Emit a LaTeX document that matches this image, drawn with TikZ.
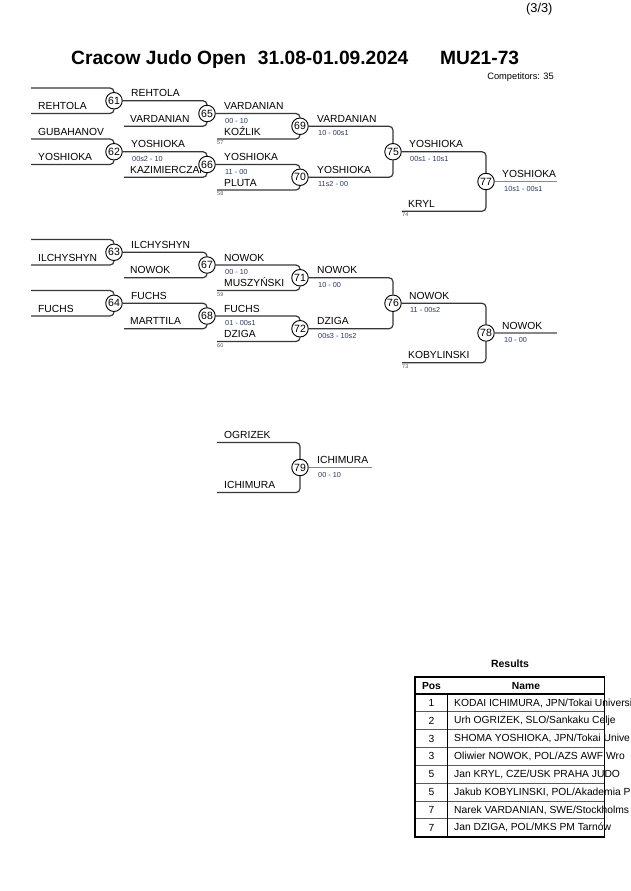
\documentclass[tikz,border=0pt]{standalone}
\usepackage{fontspec}
\setmainfont{Liberation Sans}
\definecolor{linec}{RGB}{55,55,55}
\definecolor{scorec}{RGB}{40,55,95}
\definecolor{tinyc}{RGB}{90,90,90}
\definecolor{finc}{RGB}{135,135,135}
\definecolor{rowc}{RGB}{90,90,90}
\pgfdeclarelayer{bg}
\pgfsetlayers{bg,main}
\begin{document}
\begin{tikzpicture}[x=1pt,y=-1pt,
  br/.style={draw=linec,line width=1.2pt,rounded corners=4pt},
  fin/.style={draw=finc,line width=1.6pt},
  mc/.style={circle,draw=black,fill=white,line width=0.9pt,inner sep=0pt,minimum size=16.5pt,font=\fontsize{10.5}{11}\selectfont},
  nm/.style={anchor=base west,inner sep=0pt,font=\fontsize{10.3}{12}\selectfont},
  sc/.style={anchor=base west,inner sep=0pt,text=scorec,font=\fontsize{7.3}{8}\selectfont},
  tn/.style={anchor=north west,inner sep=0pt,text=tinyc,font=\fontsize{5.5}{6}\selectfont},
  tb/.style={inner sep=0pt,font=\fontsize{10.3}{12}\selectfont},
  ttl/.style={anchor=base west,inner sep=0pt,font=\fontsize{19.2}{21}\selectfont\bfseries},
]
\useasboundingbox (0,0) rectangle (630,891);

% ---------- header ----------
\node[anchor=base east,inner sep=0pt,font=\fontsize{12.8}{14}\selectfont] (page) at (552.7,13) {(3/3)};
\node[ttl] (t1) at (71,65) {Cracow Judo Open};
\node[ttl] (t2) at (257.7,65) {31.08-01.09.2024};
\node[ttl] (t3) at (440,65) {MU21-73};
\node[anchor=base east,inner sep=0pt,font=\fontsize{9.3}{10}\selectfont] (comp) at (554,79.5) {Competitors: 35};

% ---------- section 1 names ----------
\node[nm] (n1) at (38,109.5) {REHTOLA};
\node[nm] (n2) at (38,135) {GUBAHANOV};
\node[nm] (n3) at (38,160.5) {YOSHIOKA};
\node[nm] (n4) at (131,96.75) {REHTOLA};
\node[nm] (n5) at (130,122.25) {VARDANIAN};
\node[nm] (n6) at (131,147.75) {YOSHIOKA};
\node[sc] (s6) at (132,161.25) {00s2 - 10};
\node[nm] (n7) at (130,173.25) {KAZIMIERCZAK};
\node[nm] (n8) at (224,109.5) {VARDANIAN};
\node[sc] (s8) at (225,123) {00 - 10};
\node[nm] (n9) at (224,135) {KOŹLIK};
\node[tn] (k9) at (217,140.5) {57};
\node[nm] (n10) at (224,160.5) {YOSHIOKA};
\node[sc] (s10) at (225,174) {11 - 00};
\node[nm] (n11) at (224,186) {PLUTA};
\node[tn] (k11) at (217,191.5) {58};
\node[nm] (n12) at (317,122.25) {VARDANIAN};
\node[sc] (s12) at (318,135.75) {10 - 00s1};
\node[nm] (n13) at (317,173.25) {YOSHIOKA};
\node[sc] (s13) at (318,186.75) {11s2 - 00};
\node[nm] (n14) at (409,147.75) {YOSHIOKA};
\node[sc] (s14) at (410,161.25) {00s1 - 10s1};
\node[nm] (n15) at (408,207.25) {KRYL};
\node[tn] (k15) at (402,212.75) {74};
\node[nm] (n16) at (502,177.5) {YOSHIOKA};
\node[sc] (s16) at (504,191) {10s1 - 00s1};

% ---------- section 2 names ----------
\node[nm] (p1) at (38,261) {ILCHYSHYN};
\node[nm] (p2) at (38,312) {FUCHS};
\node[nm] (p3) at (131,248.25) {ILCHYSHYN};
\node[nm] (p4) at (130,273.75) {NOWOK};
\node[nm] (p5) at (131,299.25) {FUCHS};
\node[nm] (p6) at (130,324.75) {MARTTILA};
\node[nm] (p7) at (224,261) {NOWOK};
\node[sc] (q7) at (225,274.5) {00 - 10};
\node[nm] (p8) at (224,286.5) {MUSZYŃSKI};
\node[tn] (r8) at (217,292) {59};
\node[nm] (p9) at (224,312) {FUCHS};
\node[sc] (q9) at (225,325.5) {01 - 00s1};
\node[nm] (p10) at (224,337.5) {DZIGA};
\node[tn] (r10) at (217,343) {60};
\node[nm] (p11) at (317,273.75) {NOWOK};
\node[sc] (q11) at (318,287.25) {10 - 00};
\node[nm] (p12) at (317,324.75) {DZIGA};
\node[sc] (q12) at (318,338.25) {00s3 - 10s2};
\node[nm] (p13) at (409,299.25) {NOWOK};
\node[sc] (q13) at (410,312.75) {11 - 00s2};
\node[nm] (p14) at (408,358.75) {KOBYLINSKI};
\node[tn] (r14) at (402,364.25) {73};
\node[nm] (p15) at (502,329) {NOWOK};
\node[sc] (q15) at (504,342.5) {10 - 00};

% ---------- section 3 names ----------
\node[nm] (o1) at (224,438.5) {OGRIZEK};
\node[nm] (o2) at (224,488.5) {ICHIMURA};
\node[nm] (o3) at (317,463.5) {ICHIMURA};
\node[sc] (o4) at (318,477) {00 - 10};

% ---------- circles ----------
\node[mc] (m61) at (114,100.75) {61};
\node[mc] (m62) at (114,151.75) {62};
\node[mc] (m65) at (207,113.5) {65};
\node[mc] (m66) at (207,164.5) {66};
\node[mc] (m69) at (300,126.25) {69};
\node[mc] (m70) at (300,177.25) {70};
\node[mc] (m75) at (393,151.75) {75};
\node[mc] (m77) at (486,181.5) {77};
\node[mc] (m63) at (114,252.25) {63};
\node[mc] (m64) at (114,303.25) {64};
\node[mc] (m67) at (207,265) {67};
\node[mc] (m68) at (207,316) {68};
\node[mc] (m71) at (300,277.75) {71};
\node[mc] (m72) at (300,328.75) {72};
\node[mc] (m76) at (393,303.25) {76};
\node[mc] (m78) at (486,333) {78};
\node[mc] (m79) at (300,467.5) {79};

% ---------- entry points ----------
\coordinate (e61a) at (31,88);
\coordinate (e61b) at (31,113.5);
\coordinate (e62a) at (31,139);
\coordinate (e62b) at (31,164.5);
\coordinate (e65b) at (124,126.25);
\coordinate (e66b) at (124,177.25);
\coordinate (e69b) at (217,139);
\coordinate (e70b) at (217,190);
\coordinate (e77b) at (402,211.25);
\coordinate (f77) at (557,181.5);
\coordinate (e63a) at (31,239.5);
\coordinate (e63b) at (31,265);
\coordinate (e64a) at (31,290.5);
\coordinate (e64b) at (31,316);
\coordinate (e67b) at (124,277.75);
\coordinate (e68b) at (124,328.75);
\coordinate (e71b) at (217,290.5);
\coordinate (e72b) at (217,341.5);
\coordinate (e78b) at (402,362.75);
\coordinate (f78) at (557,333);
\coordinate (e79a) at (217,442.5);
\coordinate (e79b) at (217,492.5);
\coordinate (f79) at (372,467.5);

\begin{pgfonlayer}{bg}
% section 1
\draw[br] (e61a) -| (m61);
\draw[br] (e61b) -| (m61);
\draw[br] (e62a) -| (m62);
\draw[br] (e62b) -| (m62);
\draw[br] (m61) -| (m65);
\draw[br] (e65b) -| (m65);
\draw[br] (m62) -| (m66);
\draw[br] (e66b) -| (m66);
\draw[br] (m65) -| (m69);
\draw[br] (e69b) -| (m69);
\draw[br] (m66) -| (m70);
\draw[br] (e70b) -| (m70);
\draw[br] (m69) -| (m75);
\draw[br] (m70) -| (m75);
\draw[br] (m75) -| (m77);
\draw[br] (e77b) -| (m77);
\draw[fin] (m77) -- (f77);
% section 2
\draw[br] (e63a) -| (m63);
\draw[br] (e63b) -| (m63);
\draw[br] (e64a) -| (m64);
\draw[br] (e64b) -| (m64);
\draw[br] (m63) -| (m67);
\draw[br] (e67b) -| (m67);
\draw[br] (m64) -| (m68);
\draw[br] (e68b) -| (m68);
\draw[br] (m67) -| (m71);
\draw[br] (e71b) -| (m71);
\draw[br] (m68) -| (m72);
\draw[br] (e72b) -| (m72);
\draw[br] (m71) -| (m76);
\draw[br] (m72) -| (m76);
\draw[br] (m76) -| (m78);
\draw[br] (e78b) -| (m78);
\draw[fin] (m78) -- (f78);
% section 3
\draw[br] (e79a) -| (m79);
\draw[br] (e79b) -| (m79);
\draw[fin] (m79) -- (f79);
\end{pgfonlayer}

% ---------- results table ----------
\node[inner sep=0pt,font=\fontsize{10.5}{12}\selectfont\bfseries] (res) at (510,664) {Results};
\node[tb,font=\fontsize{10.3}{12}\selectfont\bfseries] (hpos) at (431.5,685.5) {Pos};
\node[tb,font=\fontsize{10.3}{12}\selectfont\bfseries] (hname) at (526,685.5) {Name};
\foreach \i/\p/\t in {1/1/{KODAI ICHIMURA, JPN/Tokai Universi},
                       2/2/{Urh OGRIZEK, SLO/Sankaku Celje},
                       3/3/{SHOMA YOSHIOKA, JPN/Tokai Unive},
                       4/3/{Oliwier NOWOK, POL/AZS AWF Wro},
                       5/5/{Jan KRYL, CZE/USK PRAHA JUDO},
                       6/5/{Jakub KOBYLINSKI, POL/Akademia P},
                       7/7/{Narek VARDANIAN, SWE/Stockholms},
                       8/7/{Jan DZIGA, POL/MKS PM Tarnów}}{
  \node[tb] (rp\i) at (431.5,{694+17.84*(\i-0.5)}) {\p};
  \node[tb,anchor=west] (rn\i) at (454,{694+17.84*(\i-0.5)}) {\t};
}
\foreach \k in {1,...,7}{
  \draw[draw=rowc,line width=1pt] (415,{694+17.84*\k}) -- (604.3,{694+17.84*\k});
}
\draw[line width=1pt] (447.3,694) -- (447.3,836.7);
\draw[line width=1.2pt] (415,694) -- (604.3,694);
\draw[line width=1.6pt] (415,676.7) rectangle (604.3,836.7);
\end{tikzpicture}
\end{document}
